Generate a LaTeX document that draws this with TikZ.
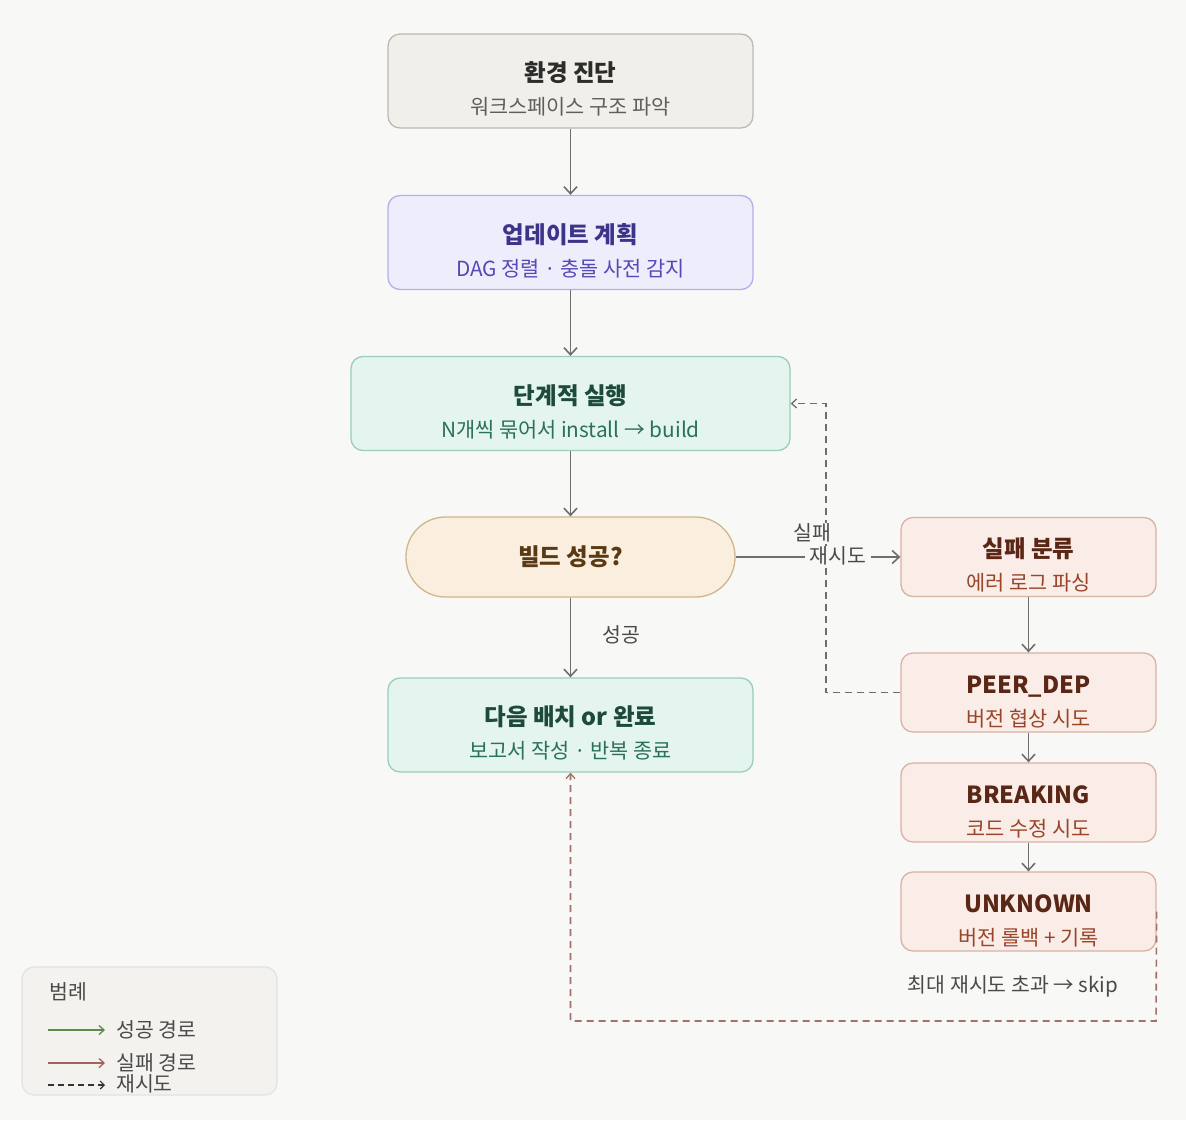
\documentclass[tikz,border=0pt]{standalone}
\usepackage{fontspec}
\setmainfont{Noto Sans CJK KR}
\usepackage{xcolor}
\usetikzlibrary{positioning,arrows.meta}

\definecolor{bg}{HTML}{F8F8F6}
\definecolor{grayfill}{HTML}{F1EFE9}
\definecolor{graydraw}{HTML}{BDBAB2}
\definecolor{graytitle}{HTML}{2C2C2A}
\definecolor{graysub}{HTML}{5F5E5A}
\definecolor{purplefill}{HTML}{EEEDFC}
\definecolor{purpledraw}{HTML}{B4AEEA}
\definecolor{purpletitle}{HTML}{3C3489}
\definecolor{purplesub}{HTML}{534AB7}
\definecolor{tealfill}{HTML}{E3F5EE}
\definecolor{tealdraw}{HTML}{9CCDBC}
\definecolor{tealtitle}{HTML}{1D4A3C}
\definecolor{tealsub}{HTML}{2B7158}
\definecolor{amberfill}{HTML}{FAEFDF}
\definecolor{amberdraw}{HTML}{CFB58C}
\definecolor{ambertitle}{HTML}{5A3A14}
\definecolor{coralfill}{HTML}{FAECE7}
\definecolor{coraldraw}{HTML}{D8B2A4}
\definecolor{coraltitle}{HTML}{5A2616}
\definecolor{coralsub}{HTML}{99452A}
\definecolor{flowline}{HTML}{6E6E6C}
\definecolor{skipline}{HTML}{A27068}
\definecolor{legendfill}{HTML}{F3F2EE}
\definecolor{legenddraw}{HTML}{E4E2DC}
\definecolor{oklegend}{HTML}{5C8A4E}
\definecolor{faillegend}{HTML}{A5605A}
\definecolor{labeltext}{HTML}{4A4A48}

\newcommand{\steptext}[4]{\rule{0pt}{36pt}{\fontsize{23.5}{28}\selectfont\bfseries\color{#1}#3}\\{\fontsize{20.8}{24}\selectfont\color{#2}#4}}

\begin{document}
\begin{tikzpicture}[x=1pt, y=-1pt,
    stepbox/.style={rectangle, rounded corners=12pt, line width=1.3pt, align=center, font=\fontsize{20.8}{33}\selectfont, minimum width=365pt, minimum height=94pt, inner sep=0pt},
    graybox/.style={stepbox, draw=graydraw, fill=grayfill},
    purplebox/.style={stepbox, draw=purpledraw, fill=purplefill},
    tealbox/.style={stepbox, draw=tealdraw, fill=tealfill},
    pillbox/.style={rectangle, rounded corners=39.5pt, line width=1.3pt, draw=amberdraw, fill=amberfill, minimum width=329pt, minimum height=80pt},
    failbox/.style={stepbox, draw=coraldraw, fill=coralfill, minimum width=255pt, minimum height=79pt},
    flow/.style={draw=flowline, line width=1.8pt, -{Straight Barb[length=7pt, width=13pt, line width=1.6pt]}},
    retry/.style={draw=flowline, line width=1.6pt, dash pattern=on 7pt off 5pt, -{Straight Barb[length=5pt, width=9pt, line width=1.3pt]}},
    skipflow/.style={draw=skipline, line width=1.6pt, dash pattern=on 7pt off 5pt, -{Straight Barb[length=5pt, width=9pt, line width=1.3pt]}},
    note/.style={font=\fontsize{20.5}{24}\selectfont, text=labeltext, inner sep=1pt}
]
\fill[bg] (0,0) rectangle (1186,1120);
\useasboundingbox (0,0) rectangle (1186,1120);

% main column
\node[graybox](diag) at (570.5,81){\steptext{graytitle}{graysub}{환경 진단}{워크스페이스 구조 파악}};
\node[purplebox](plan) at (570.5,242.5){\steptext{purpletitle}{purplesub}{업데이트 계획}{DAG 정렬 · 충돌 사전 감지}};
\node[tealbox, minimum width=439pt](exec) at (570.5,403.5){\steptext{tealtitle}{tealsub}{단계적 실행}{N개씩 묶어서 install → build}};
\node[pillbox, font=\fontsize{23.5}{28}\selectfont\bfseries, text=ambertitle](check) at (570.5,557){빌드 성공?};
\node[tealbox](next) at (570.5,725){\steptext{tealtitle}{tealsub}{다음 배치 or 완료}{보고서 작성 · 반복 종료}};

% failure column
\node[failbox](classify) at (1028.5,557){\steptext{coraltitle}{coralsub}{실패 분류}{에러 로그 파싱}};
\node[failbox](peer) at (1028.5,692.5){\steptext{coraltitle}{coralsub}{PEER\_DEP}{버전 협상 시도}};
\node[failbox](breaking) at (1028.5,802.5){\steptext{coraltitle}{coralsub}{BREAKING}{코드 수정 시도}};
\node[failbox](unknown) at (1028.5,911.5){\steptext{coraltitle}{coralsub}{UNKNOWN}{버전 롤백 + 기록}};

\draw[flow] (diag.south) -- (plan.north);
\draw[flow] (plan.south) -- (exec.north);
\draw[flow] (exec.south) -- (check.north);
\draw[flow] (check.south) -- node[note, right=30pt, pos=0.47]{성공} (next.north);
\draw[flow] (classify.south) -- (peer.north);
\draw[flow] (peer.south) -- (breaking.north);
\draw[flow] (breaking.south) -- (unknown.north);

% retry loop back to execution
\coordinate (retrycorner) at (826,692.5);
\draw[retry] (peer.west) -- (retrycorner) |- (exec.east);

% failure branch
\draw[flow] (check.east) -- (classify.west);
\node[note, fill=bg](failtag) at (812,533){실패};
\node[note, fill=bg, inner xsep=5pt](retrytag) at (838,556){재시도};

% give up and skip
\coordinate (skipcorner) at (1156,1021);
\draw[skipflow] (unknown.east) -- (skipcorner) -| (next.south);
\node[note](skipnote) at (1013,986){최대 재시도 초과 → skip};

% legend
\node[rectangle, rounded corners=12pt, draw=legenddraw, fill=legendfill, line width=1.2pt, minimum width=255pt, minimum height=128pt](legend) at (149.5,1031){};
\node[note, anchor=west](legendtitle) at (48,992){범례};
\coordinate (okstart) at (48,1030);
\coordinate (okend) at (105,1030);
\coordinate (failstart) at (48,1063);
\coordinate (failend) at (105,1063);
\coordinate (retrystart) at (48,1085);
\coordinate (retryend) at (105,1085);
\draw[oklegend, line width=1.5pt, -{Straight Barb[length=5pt, width=9pt, line width=1.3pt]}] (okstart) -- (okend);
\draw[faillegend, line width=1.5pt, -{Straight Barb[length=5pt, width=9pt, line width=1.3pt]}] (failstart) -- (failend);
\draw[black!80, line width=1.3pt, dash pattern=on 6pt off 4pt, -{Straight Barb[length=4pt, width=8pt, line width=1.2pt]}] (retrystart) -- (retryend);
\node[note, anchor=west](oklabel) at (115,1030){성공 경로};
\node[note, anchor=west](faillabel) at (115,1063){실패 경로};
\node[note, anchor=west](retrylabel) at (115,1084){재시도};
\end{tikzpicture}
\end{document}
